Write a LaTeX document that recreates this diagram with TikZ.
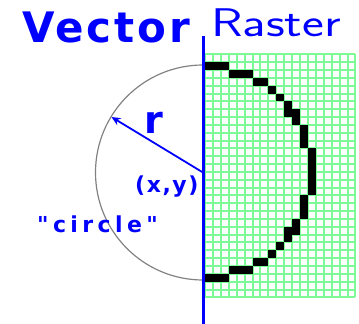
\documentclass[tikz,border=0pt]{standalone}
\usepackage{fontspec}
\setmainfont{DejaVu Sans}
\usetikzlibrary{arrows.meta}
\definecolor{vblue}{RGB}{0,0,255}
\definecolor{gridgreen}{RGB}{125,250,150}
\definecolor{arcgray}{RGB}{130,130,130}
\tikzset{
  lbl/.style={text=vblue, inner sep=0pt, anchor=base west, font=\bfseries},
  gridline/.style={draw=gridgreen, line width=2pt},
  pixel/.style={fill=black},
}
\begin{document}
\begin{tikzpicture}[x=1pt,y=-1pt]
\useasboundingbox (0,0) rectangle (359,324);
% grid
\def\gx{205}\def\gy{54.3}\def\sx{7.92}\def\sy{7.84}
\foreach \i in {0,...,19} \draw[gridline] (\gx+\i*\sx,\gy) -- (\gx+\i*\sx,\gy+31*\sy);
\foreach \j in {0,...,31} \draw[gridline] (\gx,\gy+\j*\sy) -- (\gx+19*\sx,\gy+\j*\sy);
% black pixels: row / first col / last col
\foreach \r/\a/\b in {0/0/2,1/3/5,2/6/7,3/8/8,4/9/9,5/10/10,6/10/11,7/11/11,8/12/12,9/12/12,10/12/12,
  11/13/13,12/13/13,13/13/13,14/13/13,15/13/13,16/13/13,
  17/12/12,18/12/12,19/12/12,20/11/11,21/10/11,22/10/10,23/9/9,24/8/8,25/6/7,26/3/5,27/0/2}
  \fill[pixel] (\gx+\a*\sx,\gy+\r*\sy+\sy) rectangle (\gx+\b*\sx+\sx,\gy+\r*\sy+2*\sy);
% circle arc
\coordinate (ctr) at (203,172.5);
\coordinate (tip) at (111.5,117);
\draw[arcgray, line width=1.2pt] (203,65) arc[start angle=-90, end angle=-270, radius=107.5];
% blue axis
\coordinate (axtop) at (203,36);
\coordinate (axbot) at (203,324);
\draw[vblue, line width=3pt] (axtop) -- (axbot);
% radius arrow
\draw[vblue, line width=1.8pt, -{Stealth[length=9pt,width=8pt]}] (ctr) -- (tip);
% labels
\node[lbl, font=\bfseries\fontsize{42}{42}\selectfont\addfontfeature{LetterSpace=7}] (vec) at (22,42) {Vector};
\node[text=vblue, inner sep=0pt, anchor=base west, font=\sffamily\fontsize{40}{40}\selectfont, xscale=1.3, transform shape] (ras) at (211,36) {Raster};
\node[lbl, font=\bfseries\fontsize{38}{38}\selectfont] (rl) at (144,133) {r};
\node[lbl, font=\bfseries\fontsize{22}{22}\selectfont\addfontfeature{LetterSpace=7}] (xy) at (135,192) {(x,y)};
\node[lbl, font=\bfseries\fontsize{22}{22}\selectfont\addfontfeature{LetterSpace=20,Ligatures=TeXOff}] (circ) at (37,232) {"circle"};
\end{tikzpicture}
\end{document}
